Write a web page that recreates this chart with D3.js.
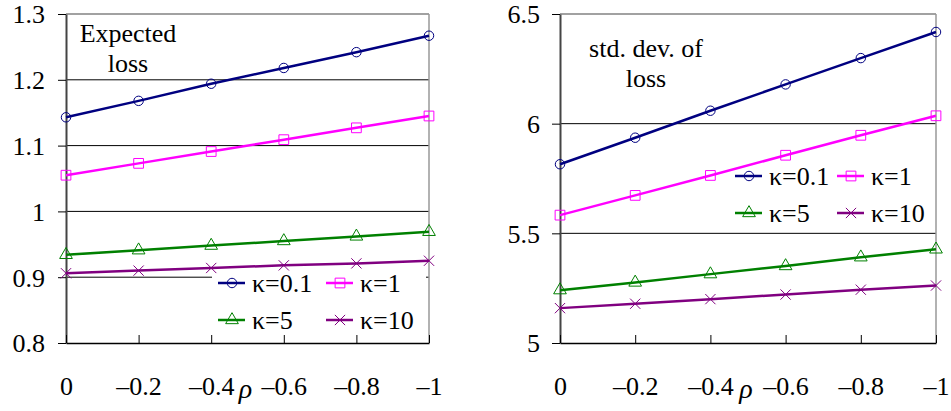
<!DOCTYPE html>
<html>
<head>
<meta charset="utf-8">
<script src="https://cdn.jsdelivr.net/npm/d3@7"></script>
<style>
  body { margin: 0; background: #fff; }
  svg text { font-family: "Liberation Serif", "Times New Roman", serif !important; fill: #000; }
</style>
</head>
<body>
<div id="viz-container"></div>
<script>
// data
let rho = [0, -0.2, -0.4, -0.6, -0.8, -1];
let kappa = ['κ=0.1', 'κ=1', 'κ=5', 'κ=10'];

let expLoss01 = [1.143, 1.168, 1.194, 1.218, 1.242, 1.267];
let expLoss1  = [1.055, 1.073, 1.091, 1.109, 1.127, 1.145];
let expLoss5  = [0.934, 0.941, 0.948, 0.955, 0.962, 0.969];
let expLoss10 = [0.906, 0.910, 0.914, 0.918, 0.921, 0.925];

let sdLoss01 = [5.815, 5.936, 6.059, 6.179, 6.299, 6.418];
let sdLoss1  = [5.583, 5.673, 5.764, 5.856, 5.947, 6.036];
let sdLoss5  = [5.241, 5.276, 5.314, 5.351, 5.391, 5.427];
let sdLoss10 = [5.159, 5.179, 5.200, 5.221, 5.243, 5.262];

let leftTicks = [0.8, 0.9, 1, 1.1, 1.2, 1.3];
let rightTicks = [5, 5.5, 6, 6.5];

//kappa color
let kc = ['#000080', '#ff00ff', '#008000', '#800080'];
//kappa symbol
let ks = [d3.symbolCircle, d3.symbolSquare, d3.symbolTriangle, d3.symbolX];
let kz = [70, 95, 70, 70];

let serif = '"Liberation Serif", "Times New Roman", serif';

let svg = d3.select('#viz-container')
  .append('svg')
    .attr('width', 951)
    .attr('height', 411);

function fmt(d){
  return d3.format('')(d).replace('-', '\u2013').replace('\u2212', '\u2013');
}

function drawPanel(p){
  let x = d3.scaleLinear().domain([0, -1]).range([p.x0, p.x1]);
  let y = d3.scaleLinear().domain(p.domain).range([343, 14]);
  let g = svg.append('g');

  // gridlines
  g.selectAll('.grid').data(p.ticks.slice(1, -1)).enter()
    .append('line')
      .attr('x1', p.x0).attr('x2', p.x1)
      .attr('y1', d => y(d)).attr('y2', d => y(d))
      .attr('stroke', '#000').attr('stroke-width', 1);

  // plot border top/right
  g.append('line').attr('x1', p.x0).attr('x2', p.x1).attr('y1', 14).attr('y2', 14)
    .attr('stroke', '#444').attr('stroke-width', 1.2);
  g.append('line').attr('x1', p.x1).attr('x2', p.x1).attr('y1', 14).attr('y2', 343)
    .attr('stroke', '#999').attr('stroke-width', 1.5);

  // legend box (under the lines, over the grid)
  let lg = g.append('g').attr('transform', 'translate(' + p.lx + ',' + p.ly + ')');
  lg.append('rect').attr('x', -6).attr('y', -12).attr('width', p.lw).attr('height', 62).attr('fill', '#fff');

  // y axis
  let ya = g.append('g')
    .attr('transform', 'translate(' + p.x0 + ',0)')
    .call(d3.axisLeft(y).tickValues(p.ticks).tickFormat(d3.format('')).tickSizeInner(8).tickSizeOuter(0).tickPadding(p.ypad));
  ya.attr('font-family', serif);
  ya.select('.domain').attr('stroke', '#444').attr('stroke-width', 2);
  ya.selectAll('.tick line').attr('stroke', '#000');
  ya.selectAll('text').attr('font-size', 26).attr('dy', '0.34em')
    .style('font-family', serif);

  // x axis
  let xa = g.append('g')
    .attr('transform', 'translate(0,343)')
    .call(d3.axisBottom(x).tickValues(rho).tickFormat(fmt).tickSizeInner(-8).tickSizeOuter(0));
  xa.attr('font-family', serif);
  xa.select('.domain').attr('stroke', '#000').attr('stroke-width', 1.5);
  xa.selectAll('.tick line').attr('stroke', '#000');
  xa.selectAll('text').attr('font-size', 26).attr('y', 52).attr('dy', 0)
    .style('font-family', serif);

  g.append('text')
    .attr('x', (p.x0 + p.x1) / 2 - 2)
    .attr('y', 398)
    .attr('text-anchor', 'middle')
    .attr('font-size', 28)
    .attr('font-style', 'italic')
    .style('font-family', serif)
    .text('ρ');

  // series
  let line = d3.line().x((d, i) => x(rho[i])).y(d => y(d));
  p.series.forEach(function(s, k){
    g.append('path')
      .attr('d', line(s))
      .attr('fill', 'none')
      .attr('stroke', kc[k])
      .attr('stroke-width', 2.5);
    g.selectAll('.m' + k).data(s).enter()
      .append('path')
        .attr('transform', (d, i) => 'translate(' + x(rho[i]) + ',' + y(d) + ')')
        .attr('d', d3.symbol().type(ks[k]).size(kz[k]))
        .attr('fill', 'none')
        .attr('stroke', kc[k])
        .attr('stroke-width', 1);
  });

  // title
  g.selectAll('.title').data(p.title).enter()
    .append('text')
      .attr('x', p.tx)
      .attr('y', (d, i) => p.ty + i * 30)
      .attr('text-anchor', 'middle')
      .attr('font-size', 26)
      .style('font-family', serif)
      .text(d => d);

  // legend entries
  let le = g.append('g').attr('transform', 'translate(' + p.lx + ',' + p.ly + ')');
  kappa.forEach(function(name, k){
    let cx = (k % 2) * p.lcol;
    let cy = Math.floor(k / 2) * 37;
    le.append('line').attr('x1', cx).attr('x2', cx + 27).attr('y1', cy).attr('y2', cy)
      .attr('stroke', kc[k]).attr('stroke-width', 2.5);
    le.append('path')
      .attr('transform', 'translate(' + (cx + 14) + ',' + cy + ')')
      .attr('d', d3.symbol().type(ks[k]).size(kz[k]))
      .attr('fill', 'none').attr('stroke', kc[k]).attr('stroke-width', 1);
    le.append('text').attr('x', cx + 34).attr('y', cy + 9).attr('font-size', 26)
      .style('font-family', serif).text(name);
  });
}

drawPanel({
  x0: 66, x1: 429, domain: [0.8, 1.3], ticks: leftTicks, ypad: 13,
  series: [expLoss01, expLoss1, expLoss5, expLoss10],
  title: ['Expected', 'loss'], tx: 128, ty: 42,
  lx: 218, ly: 283, lcol: 108, lw: 214
});

drawPanel({
  x0: 560, x1: 936, domain: [5, 6.5], ticks: rightTicks, ypad: 12,
  series: [sdLoss01, sdLoss1, sdLoss5, sdLoss10],
  title: ['std. dev. of', 'loss'], tx: 646, ty: 57,
  lx: 735, ly: 176, lcol: 102, lw: 200
});
</script>
</body>
</html>
